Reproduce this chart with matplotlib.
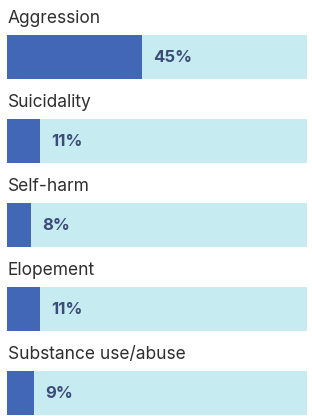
import matplotlib
matplotlib.use("Agg")
import matplotlib.pyplot as plt

# data
categories = ["Aggression", "Suicidality", "Self-harm", "Elopement", "Substance use/abuse"]
percents = [45, 11, 8, 11, 9]
track_max = 100

dark = "#4267b6"
light = "#c6ecf2"
label_col = "#2f2f2f"
pct_col = "#3c4c78"

plt.rcParams['font.family'] = ['Inter', 'DejaVu Sans']

fig = plt.figure(figsize=(3.12, 4.16), dpi=100)
# axes spans the track width, full figure height
ax = fig.add_axes([7/312, 0, 300/312, 1])

pos = list(range(len(categories)))
h = 44/84
ax.barh(pos, [track_max]*len(pos), height=h, color=light, edgecolor='none')
ax.barh(pos, percents, height=h, color=dark, edgecolor='none')

for i, (cat, p) in enumerate(zip(categories, percents)):
    ax.text(0.2, i - h/2 - 12/84, cat, fontsize=12.5, color=label_col,
            va='baseline', ha='left')
    ax.annotate(f"{p}%", xy=(p, i), xytext=(11, -1), textcoords='offset pixels',
                fontsize=12, fontweight='bold', color=pct_col, va='center', ha='left')

ax.set_xlim(0, track_max)
ax.set_ylim(4 + 23/84, -57/84)
ax.axis('off')

fig.savefig("out.png", dpi=100)
